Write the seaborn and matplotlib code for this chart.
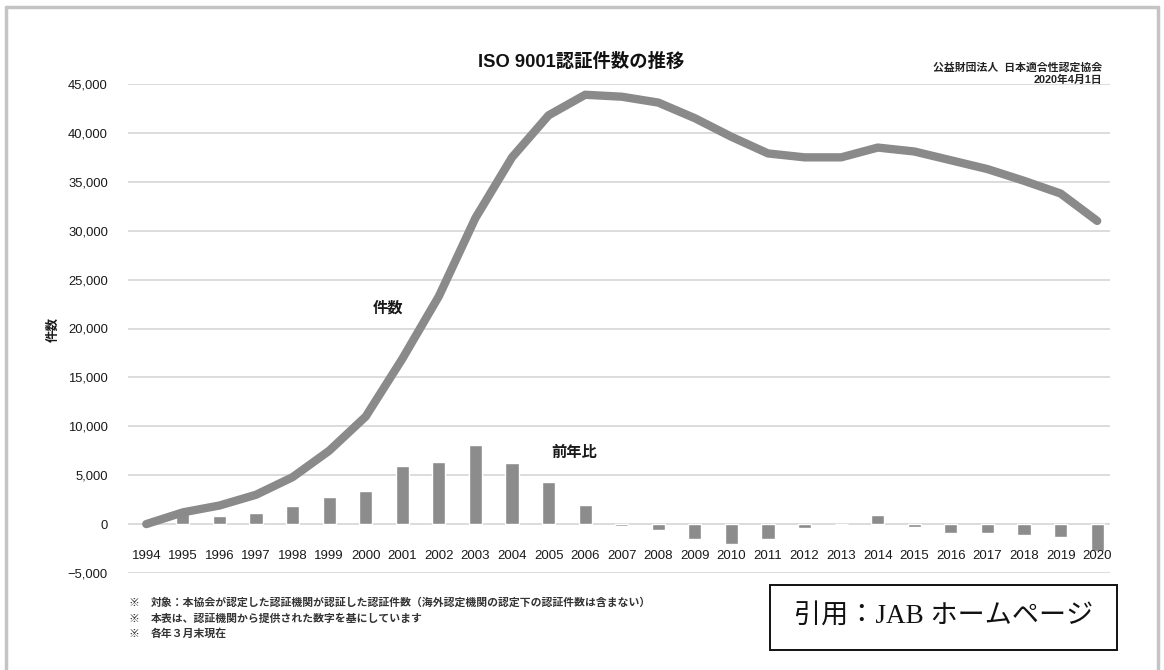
import matplotlib
matplotlib.use("Agg")
import matplotlib.pyplot as plt
import matplotlib.patches as mpatches
import matplotlib.lines as mlines
import seaborn as sns
import numpy as np
import pandas as pd

years = [str(y) for y in range(1994, 2021)]
counts = [0, 1200, 1900, 3000, 4800, 7500, 11000, 16900, 23300, 31300, 37500,
          41800, 43900, 43700, 43100, 41500, 39600, 37900, 37500, 37500, 38500,
          38100, 37200, 36300, 35100, 33800, 31000]
yoy = [np.nan, 1100, 800, 1100, 1800, 2800, 3400, 5900, 6300, 8100, 6200,
       4300, 2000, -200, -600, -1500, -2000, -1500, -400, 0, 900,
       -300, -900, -900, -1100, -1300, -2800]
yticks = list(range(-5000, 45001, 5000))

df = pd.DataFrame({"year": years, "count": counts, "yoy": yoy})
df["pos"] = np.arange(len(years))

sns.set_theme(style="white")
plt.rcParams["font.family"] = ["Liberation Sans", "Noto Sans CJK JP", "DejaVu Sans"]

fig = plt.figure(figsize=(11.64, 6.70), dpi=100)
ax = fig.add_axes([128 / 1164, 1 - 573 / 670, (1110 - 128) / 1164, (573 - 84) / 670])

for yv in yticks:
    ax.axhline(yv, color="#d9d9d9", lw=1.3, zorder=0)

sns.barplot(data=df, x="year", y="yoy", color="#8c8c8c", width=0.36,
            saturation=1, ax=ax, zorder=2)
sns.lineplot(data=df, x="pos", y="count", color="#8a8a8a", lw=6.0, ax=ax,
             zorder=3, solid_capstyle="round", solid_joinstyle="round")

ax.set_xlim(-0.5, len(years) - 0.65)
ax.set_ylim(-5000, 45000)
ax.set_yticks(yticks)
ax.set_yticklabels([f"{v:,}".replace("-", "\u2212") for v in yticks],
                   fontsize=9.4, color="#1a1a1a")
ax.tick_params(axis="y", length=0, pad=14.5)
ax.set_xticks([])
ax.set_xlabel("")
ax.set_ylabel("")
for s in ax.spines.values():
    s.set_visible(False)

for i, yr in enumerate(years):
    ax.text(i, -3300, yr, ha="center", va="center", fontsize=9.5, color="#1a1a1a")

ax.text(6.6, 22100, "件数", ha="center", va="center", fontsize=11,
        fontweight="bold", color="#1a1a1a")
ax.text(11.7, 7300, "前年比", ha="center", va="center", fontsize=11,
        fontweight="bold", color="#1a1a1a")

fig.text(54 / 1164, 1 - 329 / 670, "件数", rotation=90, ha="center", va="center",
         fontsize=9, fontweight="bold", color="#1a1a1a")

fig.text(581 / 1164, 1 - 62 / 670, "ISO 9001認証件数の推移", ha="center", va="center",
         fontsize=13.2, fontweight="bold", color="#111111")
fig.text(1102 / 1164, 1 - 68 / 670, "公益財団法人  日本適合性認定協会", ha="right",
         va="center", fontsize=7.8, fontweight="bold", color="#222222")
fig.text(1102 / 1164, 1 - 80 / 670, "2020年4月1日", ha="right", va="center",
         fontsize=7.8, fontweight="bold", color="#222222")

notes = ["対象：本協会が認定した認証機関が認証した認証件数（海外認定機関の認定下の認証件数は含まない）",
         "本表は、認証機関から提供された数字を基にしています",
         "各年３月末現在"]
for k, n in enumerate(notes):
    yy = 1 - (603 + 15.5 * k) / 670
    fig.text(128 / 1164, yy, "※", ha="left", va="center", fontsize=7.8,
             fontweight="bold", color="#333333")
    fig.text(151 / 1164, yy, n, ha="left", va="center", fontsize=7.8,
             fontweight="bold", color="#333333")

# citation box
bx0, bx1, by0, by1 = 770, 1117, 585, 650
fig.patches.append(mpatches.Rectangle((bx0 / 1164, 1 - by1 / 670),
                                      (bx1 - bx0) / 1164, (by1 - by0) / 670,
                                      transform=fig.transFigure, fill=True,
                                      facecolor="white", edgecolor="#111111", lw=1.4))
fig.text((bx0 + bx1) / 2 / 1164, 1 - (by0 + by1) / 2 / 670, "引用：JAB ホームページ",
         ha="center", va="center", fontsize=19.5,
         family=["Liberation Serif", "Noto Sans CJK JP"], color="#111111")

# outer frame
fc = "#c4c4c4"
fig.lines.append(mlines.Line2D([6 / 1164, 6 / 1164], [0, 1 - 7 / 670], transform=fig.transFigure, color=fc, lw=2.5))
fig.lines.append(mlines.Line2D([6 / 1164, 1158 / 1164], [1 - 7 / 670, 1 - 7 / 670], transform=fig.transFigure, color=fc, lw=2.5))
fig.lines.append(mlines.Line2D([1158 / 1164, 1158 / 1164], [0, 1 - 7 / 670], transform=fig.transFigure, color=fc, lw=2.5))

fig.savefig("out.png", dpi=100, facecolor="white")
